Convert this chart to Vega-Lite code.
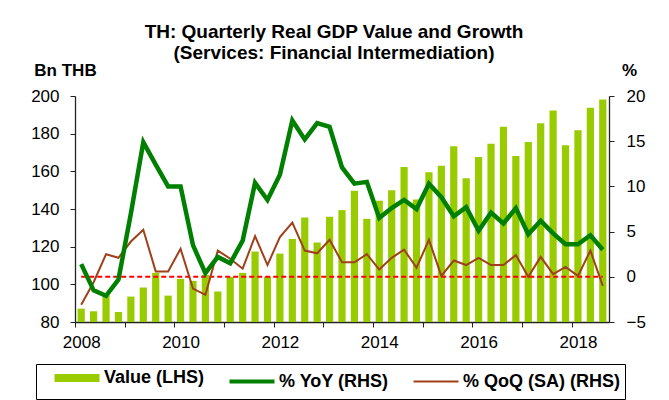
{
  "$schema": "https://vega.github.io/schema/vega-lite/v6.json",
  "width": 534,
  "height": 226,
  "autosize": {"type": "none"},
  "padding": {"left": 75, "top": 96, "right": 60, "bottom": 78},
  "background": "white",
  "config": {
    "font": "Liberation Sans",
    "view": {"stroke": null},
    "axis": {"grid": false, "domainColor": "#222", "domainWidth": 1.3, "tickColor": "#222", "labelFont": "Liberation Sans", "labelFontSize": 17, "labelColor": "#000"},
    "legend": {"strokeColor": "#000", "strokeWidth": 1, "fillColor": "#ffffff"}
  },
  "title": {
    "text": ["TH: Quarterly Real GDP Value and Growth", "(Services: Financial Intermediation)"],
    "font": "Liberation Sans", "fontSize": 19, "fontWeight": "bold", "color": "#000",
    "anchor": "middle", "lineHeight": 21, "offset": -2, "dx": -8
  },
  "data": {"values": [
    {"q": "2008Q1", "value": 87.1, "yoy": 1.4, "qoq": -3.1},
    {"q": "2008Q2", "value": 85.7, "yoy": -1.5, "qoq": -0.6},
    {"q": "2008Q3", "value": 94.2, "yoy": -2.1, "qoq": 2.5},
    {"q": "2008Q4", "value": 85.3, "yoy": -0.3, "qoq": 2.1},
    {"q": "2009Q1", "value": 93.5, "yoy": 7.0, "qoq": 3.9},
    {"q": "2009Q2", "value": 98.3, "yoy": 14.9, "qoq": 5.2},
    {"q": "2009Q3", "value": 106.1, "yoy": 12.4, "qoq": 0.6},
    {"q": "2009Q4", "value": 94.0, "yoy": 10.0, "qoq": 0.6},
    {"q": "2010Q1", "value": 102.9, "yoy": 10.0, "qoq": 3.1},
    {"q": "2010Q2", "value": 101.8, "yoy": 3.5, "qoq": -1.3},
    {"q": "2010Q3", "value": 105.0, "yoy": 0.4, "qoq": -2.0},
    {"q": "2010Q4", "value": 96.2, "yoy": 2.2, "qoq": 2.9},
    {"q": "2011Q1", "value": 103.9, "yoy": 1.5, "qoq": 2.0},
    {"q": "2011Q2", "value": 106.1, "yoy": 4.0, "qoq": 0.9},
    {"q": "2011Q3", "value": 117.4, "yoy": 10.4, "qoq": 4.5},
    {"q": "2011Q4", "value": 104.0, "yoy": 8.5, "qoq": 1.3},
    {"q": "2012Q1", "value": 116.3, "yoy": 11.3, "qoq": 4.4},
    {"q": "2012Q2", "value": 124.1, "yoy": 17.3, "qoq": 6.0},
    {"q": "2012Q3", "value": 135.5, "yoy": 15.2, "qoq": 2.9},
    {"q": "2012Q4", "value": 122.2, "yoy": 17.0, "qoq": 2.6},
    {"q": "2013Q1", "value": 135.9, "yoy": 16.6, "qoq": 4.1},
    {"q": "2013Q2", "value": 139.4, "yoy": 12.1, "qoq": 1.6},
    {"q": "2013Q3", "value": 149.7, "yoy": 10.3, "qoq": 1.6},
    {"q": "2013Q4", "value": 134.8, "yoy": 10.5, "qoq": 2.5},
    {"q": "2014Q1", "value": 144.4, "yoy": 6.5, "qoq": 0.8},
    {"q": "2014Q2", "value": 150.0, "yoy": 7.6, "qoq": 2.1},
    {"q": "2014Q3", "value": 162.3, "yoy": 8.5, "qoq": 3.0},
    {"q": "2014Q4", "value": 145.1, "yoy": 7.5, "qoq": 1.0},
    {"q": "2015Q1", "value": 159.5, "yoy": 10.3, "qoq": 4.1},
    {"q": "2015Q2", "value": 163.0, "yoy": 8.8, "qoq": 0.1},
    {"q": "2015Q3", "value": 173.3, "yoy": 6.7, "qoq": 1.8},
    {"q": "2015Q4", "value": 156.3, "yoy": 7.7, "qoq": 1.3},
    {"q": "2016Q1", "value": 167.6, "yoy": 5.1, "qoq": 2.1},
    {"q": "2016Q2", "value": 174.7, "yoy": 7.1, "qoq": 1.3},
    {"q": "2016Q3", "value": 183.7, "yoy": 5.9, "qoq": 1.3},
    {"q": "2016Q4", "value": 168.1, "yoy": 7.6, "qoq": 2.4},
    {"q": "2017Q1", "value": 175.6, "yoy": 4.7, "qoq": 0.0},
    {"q": "2017Q2", "value": 185.5, "yoy": 6.2, "qoq": 2.2},
    {"q": "2017Q3", "value": 192.3, "yoy": 4.8, "qoq": 0.3},
    {"q": "2017Q4", "value": 173.8, "yoy": 3.6, "qoq": 1.1},
    {"q": "2018Q1", "value": 181.8, "yoy": 3.6, "qoq": 0.1},
    {"q": "2018Q2", "value": 193.8, "yoy": 4.6, "qoq": 2.9},
    {"q": "2018Q3", "value": 198.1, "yoy": 3.0, "qoq": -1.0}
  ]},
  "encoding": {
    "x": {
      "field": "q", "type": "ordinal", "sort": null,
      "scale": {"paddingInner": 0.42, "paddingOuter": 0.21},
      "axis": {
        "title": null, "labelAngle": 0,
        "values": ["2008Q1","2009Q1","2010Q1","2011Q1","2012Q1","2013Q1","2014Q1","2015Q1","2016Q1","2017Q1","2018Q1"],
        "labelExpr": "toNumber(substring(datum.value, 0, 4)) % 2 == 0 ? substring(datum.value, 0, 4) : ''",
        "tickOffset": -6.21, "labelOffset": 6.21, "tickSize": 5, "labelPadding": 7
      }
    }
  },
  "layer": [
    {
      "mark": {"type": "bar", "color": "#99cc00"},
      "encoding": {
        "y": {
          "field": "value", "type": "quantitative",
          "scale": {"domain": [80, 200], "zero": false, "nice": false},
          "axis": {"orient": "left", "values": [80, 100, 120, 140, 160, 180, 200], "tickSize": 5, "labelPadding": 11,
            "title": "Bn THB", "titleAngle": 0, "titleAlign": "center", "titleBaseline": "middle", "titleX": -10, "titleY": -26,
            "titleFont": "Liberation Sans", "titleFontSize": 17, "titleFontWeight": "bold", "titleColor": "#000"}
        },
        "y2": {"datum": 80},
        "color": {
          "datum": "Value (LHS)",
          "scale": {"domain": ["Value (LHS)", "% YoY (RHS)", "% QoQ (SA) (RHS)"], "range": ["#99cc00", "#008000", "#a0401a"]},
          "legend": {
            "orient": "none", "legendX": -39, "legendY": 268, "direction": "horizontal", "title": null,
            "strokeColor": "#000", "fillColor": "#ffffff", "padding": 5, "symbolType": "stroke", "symbolSize": 2025, "symbolOffset": 27,
            "labelFont": "Liberation Sans", "labelFontSize": 18, "labelFontWeight": "bold", "labelColor": "#000",
            "labelOffset": 18, "columnPadding": 11, "labelLimit": 300,
            "encode": {"symbols": {"update": {
              "strokeWidth": {"signal": "datum.value === 'Value (LHS)' ? 8 : (datum.value === '% YoY (RHS)' ? 4 : 2)"},
              "stroke": {"signal": "scale('color', datum.value)"},
              "fill": {"value": "transparent"},
              "opacity": {"value": 1}
            }}}
          }
        }
      }
    },
    {
      "layer": [
        {
          "mark": {"type": "line", "color": "#ff0000", "strokeWidth": 2, "strokeDash": [5, 3]},
          "encoding": {
            "y": {"datum": 0, "type": "quantitative",
              "scale": {"domain": [-5, 20], "nice": false},
              "axis": {"orient": "right", "values": [-5, 0, 5, 10, 15, 20], "tickSize": 5, "labelPadding": 12,
                "title": "%", "titleAngle": 0, "titleAlign": "center", "titleBaseline": "middle", "titleX": 20, "titleY": -26,
                "titleFont": "Liberation Sans", "titleFontSize": 17, "titleFontWeight": "bold", "titleColor": "#000"}
            }
          }
        },
        {
          "mark": {"type": "line", "strokeWidth": 2},
          "encoding": {
            "y": {"field": "qoq", "type": "quantitative",
              "scale": {"domain": [-5, 20], "nice": false},
              "axis": {"orient": "right", "values": [-5, 0, 5, 10, 15, 20], "tickSize": 5, "labelPadding": 12,
                "title": "%", "titleAngle": 0, "titleAlign": "center", "titleBaseline": "middle", "titleX": 20, "titleY": -26,
                "titleFont": "Liberation Sans", "titleFontSize": 17, "titleFontWeight": "bold", "titleColor": "#000"}
            },
            "color": {"datum": "% QoQ (SA) (RHS)"}
          }
        },
        {
          "mark": {"type": "line", "strokeWidth": 4.5},
          "encoding": {
            "y": {"field": "yoy", "type": "quantitative",
              "scale": {"domain": [-5, 20], "nice": false},
              "axis": {"orient": "right", "values": [-5, 0, 5, 10, 15, 20], "tickSize": 5, "labelPadding": 12,
                "title": "%", "titleAngle": 0, "titleAlign": "center", "titleBaseline": "middle", "titleX": 20, "titleY": -26,
                "titleFont": "Liberation Sans", "titleFontSize": 17, "titleFontWeight": "bold", "titleColor": "#000"}
            },
            "color": {"datum": "% YoY (RHS)"}
          }
        }
      ]
    }
  ],
  "resolve": {"scale": {"y": "independent"}}
}
